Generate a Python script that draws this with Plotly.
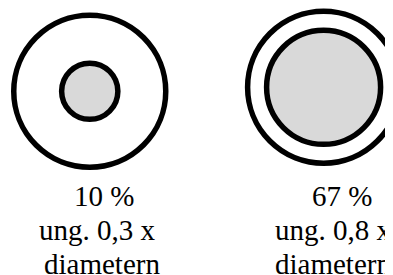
import plotly.graph_objects as go

# ---- data ----
categories = ["small", "large"]
area_pct = [10, 67]                 # percentage of area
diam_label = ["0,3", "0,8"]         # approx. fraction of diameter (label text)
inner_ratio = [0.37, 0.75]          # drawn inner/outer radius ratio
line1 = [f"{p} %" for p in area_pct]
line2 = [f"ung. {d} x" for d in diam_label]
line3 = ["diametern", "diametern"]

# ---- layout constants (screen pixels) ----
W, H = 393, 275
OFF = 8                                   # default page body margin
S = 76.0                                  # px per unit (outer radius = 1)
centers_px = [(89.75, 91.25), (323.6, 87.3)]
text_x_px = [[103.8, 97.0, 101.7], [342.0, 333.9, 333.4]]
baselines_px = [206.7, 241.0, 275.0]
FS = 29
OX, OY = centers_px[0]


def dx(px):
    return (px - OX) / S


def dy(py):
    return (OY - py) / S


def paper_x(px):
    return (px - OFF) / W


def paper_y(py):
    return 1 - (py - OFF) / H


fig = go.Figure()
fig.add_trace(go.Scatter(x=[dx(OFF), dx(OFF + W)], y=[dy(OFF + H), dy(OFF)], mode="markers",
                         marker=dict(opacity=0), hoverinfo="skip", showlegend=False))

shapes = []
annotations = []
for i, cat in enumerate(categories):
    cx, cy = dx(centers_px[i][0]), dy(centers_px[i][1])
    r_out = 1.0
    r_in = inner_ratio[i] * r_out
    shapes.append(dict(type="circle", xref="x", yref="y",
                       x0=cx - r_out, x1=cx + r_out, y0=cy - r_out, y1=cy + r_out,
                       line=dict(color="black", width=5.5), fillcolor="white", layer="above"))
    shapes.append(dict(type="circle", xref="x", yref="y",
                       x0=cx - r_in, x1=cx + r_in, y0=cy - r_in, y1=cy + r_in,
                       line=dict(color="black", width=5.5), fillcolor="#d9d9d9", layer="above"))
    for j, txt in enumerate([line1[i], line2[i], line3[i]]):
        annotations.append(dict(
            x=paper_x(text_x_px[i][j]), y=paper_y(baselines_px[j] + 7.3),
            xref="paper", yref="paper",
            text=txt, showarrow=False, xanchor="center", yanchor="bottom",
            font=dict(family="Liberation Serif", size=FS, color="black")))

fig.update_layout(
    width=W, height=H, margin=dict(l=0, r=0, t=0, b=0),
    paper_bgcolor="white", plot_bgcolor="white",
    xaxis=dict(range=[dx(OFF), dx(OFF + W)], visible=False, fixedrange=True),
    yaxis=dict(range=[dy(OFF + H), dy(OFF)], visible=False, fixedrange=True),
    shapes=shapes, annotations=annotations, showlegend=False,
)

fig.write_html("out.html")
